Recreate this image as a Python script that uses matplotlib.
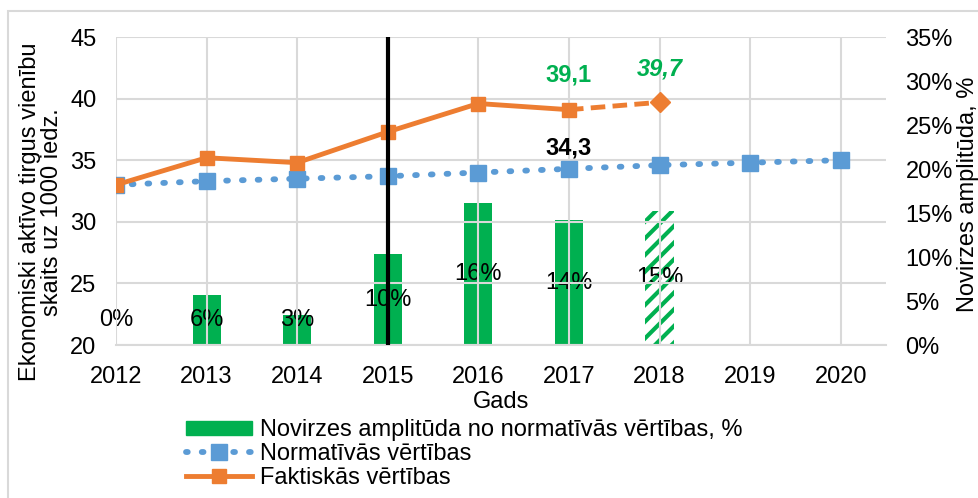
import matplotlib.pyplot as plt
from matplotlib.patches import Rectangle, Patch
from matplotlib.lines import Line2D

plt.rcParams['font.family'] = ['Liberation Sans', 'DejaVu Sans']
plt.rcParams['hatch.linewidth'] = 3.0

years = ['2012', '2013', '2014', '2015', '2016', '2017', '2018', '2019', '2020']
normative = [33.0, 33.3, 33.5, 33.7, 34.0, 34.3, 34.6, 34.8, 35.0]
actual = [33.0, 35.2, 34.8, 37.3, 39.6, 39.1]
forecast = [39.1, 39.7]
deviation = [0.0, 5.7, 3.4, 10.3, 16.1, 14.2, 15.2]
deviation_labels = ['0%', '6%', '3%', '10%', '16%', '14%', '15%']

GREEN = '#00B050'
BLUE = '#5B9BD5'
ORANGE = '#ED7D31'
GRID = '#D9D9D9'
FS = 17

fig = plt.figure(figsize=(9.79, 4.98), dpi=100)
fig.patches.append(Rectangle((8 / 979, -0.1), 1.2, 1.1 - 11 / 498, transform=fig.transFigure,
                             fill=False, edgecolor=GRID, linewidth=1.5))

ax = fig.add_axes([0.1185, 0.3072, 0.905 - 0.1185, 0.9257 - 0.3072])
ax2 = ax.twinx()
ax.set_zorder(ax2.get_zorder() + 1)
ax.patch.set_visible(False)

x = list(range(len(years)))

# bars on secondary axis
bx = x[:len(deviation)]
ax2.bar(bx[:-1], deviation[:-1], width=0.31, color=GREEN, zorder=2)
ax2.bar(bx[-1], deviation[-1], width=0.31, color='white', edgecolor=GREEN, hatch='//', linewidth=0, zorder=2)
for xi, v, lab in zip(bx, deviation, deviation_labels):
    ax2.text(xi, max(v / 2, 2.85), lab, ha='center', va='center', fontsize=FS, color='black', zorder=5)
ax2.set_ylim(0, 35)
ax2.set_yticks(range(0, 36, 5))
ax2.set_yticklabels([f'{t}%' for t in range(0, 36, 5)])

# lines on primary axis
ax.plot(x, normative, color=BLUE, linestyle=(0, (0.3, 2.4)), dash_capstyle='round', linewidth=4.2,
        marker='s', markersize=12, zorder=3)
ax.plot(x[:len(actual)], actual, color=ORANGE, linewidth=3.5, marker='s', markersize=10, zorder=4)
ax.plot(x[5:7], forecast, color=ORANGE, linewidth=3.5, linestyle=(0, (3, 1.5)), zorder=4)
ax.plot(x[6], forecast[-1], color=ORANGE, marker='D', markersize=10, zorder=4)

ax.axvline(3, color='black', linewidth=3, zorder=4)

ax.text(5, 41.9, '39,1', color=GREEN, fontsize=FS, fontweight='bold', ha='center', va='center')
ax.text(6, 42.4, '39,7', color=GREEN, fontsize=FS, fontweight='bold', style='italic', ha='center', va='center')
ax.text(5, 36.0, '34,3', color='black', fontsize=FS, fontweight='bold', ha='center', va='center')

ax.set_xlim(0, 8.5)
ax.set_ylim(20, 45)
ax.set_xticks(x)
ax.set_xticklabels(years)
ax.set_yticks(range(20, 46, 5))
ax.grid(True, color=GRID, linewidth=1.5, zorder=0)
ax.set_axisbelow(True)

for a in (ax, ax2):
    for s in a.spines.values():
        s.set_visible(False)
    a.tick_params(length=0, labelsize=FS, pad=14)
ax.tick_params(axis='x', pad=15)
ax.spines['bottom'].set_visible(True)
ax.spines['bottom'].set_color(GRID)
ax.spines['bottom'].set_linewidth(1.5)

ax.set_xlabel('Gads', fontsize=FS, labelpad=2)
fig.text(41 / 979, 1 - 212 / 498, 'Ekonomiski aktīvo tirgus vienību\nskaits uz 1000 iedz.', rotation=90,
         fontsize=FS, ha='center', va='center', multialignment='center', linespacing=1.0)
fig.text(0.989, 0.61, 'Novirzes amplitūda, %', rotation=90, fontsize=FS, ha='center', va='center')

# legend
handles = [Patch(color=GREEN),
           Line2D([], [], color=BLUE, linestyle=(0, (0.3, 2.4)), dash_capstyle='round', linewidth=4.2, marker='s', markersize=12),
           Line2D([], [], color=ORANGE, linewidth=3.5, marker='s', markersize=10)]
labels = ['Novirzes amplitūda no normatīvās vērtības, %', 'Normatīvās vērtības', 'Faktiskās vērtības']
fig.legend(handles, labels, loc='upper left', bbox_to_anchor=(0.19, 0.158), frameon=False,
           fontsize=FS, handlelength=2.8, handleheight=0.55, handletextpad=0.35, labelspacing=0.08,
           borderaxespad=0, borderpad=0)

fig.savefig('out.png', dpi=100)
